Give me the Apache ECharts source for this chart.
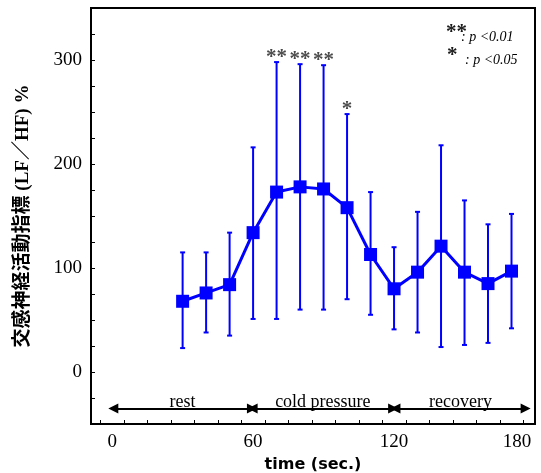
<!DOCTYPE html>
<html>
<head>
<meta charset="utf-8">
<script src="https://cdn.jsdelivr.net/npm/echarts@6/dist/echarts.min.js"></script>
<style>
  html, body { margin: 0; padding: 0; background: #ffffff; }
  #chart { width: 541px; height: 473px; }
</style>
</head>
<body>
<div id="chart"></div>
<script>
// Sampling times (seconds) and LF/HF ratio, % of baseline: mean with the SD bar ends
const times = [30, 40, 50, 60, 70, 80, 90, 100, 110, 120, 130, 140, 150, 160, 170];
const means = [68, 76, 84, 134, 173, 178, 176, 158, 113, 80, 96, 121, 96, 85, 97];
const upperEnds = [115, 115, 134, 216, 298, 296, 295, 248, 173, 120, 154, 218, 165, 142, 152];
const lowerEnds = [23, 38, 35, 51, 51, 60, 60, 70, 55, 41, 38, 24, 26, 28, 42];
// Significance marks over each time point
const significance = ['', '', '', '', '**', '**', '**', '*', '', '', '', '', '', '', ''];

// Axis labels and ticks
const xLabelValues = [0, 60, 120, 180];
const xTickValues = [-5, 5, 15, 25, 35, 45, 55, 65, 75, 85, 95, 105, 115, 125, 135, 145, 155, 165, 175];
const yLabelValues = [0, 100, 200, 300];

// Experimental phases shown as arrows under the curve
const phaseNames = ['rest', 'cold pressure', 'recovery'];
const phaseStarts = [0.5, 59.8, 120.6];
const phaseEnds = [59.5, 119.6, 176];
const phaseLevel = -35;

const BLUE = '#0000ff';
const SERIF = '"Liberation Serif", "Times New Roman", serif';

const chart = echarts.init(document.getElementById('chart'), null, { renderer: 'canvas' });

const errorData = times.map((t, i) => [t, lowerEnds[i], upperEnds[i]]);
const meanData = times.map((t, i) => [t, means[i]]);
const starData = times
  .map((t, i) => ({ value: [t, upperEnds[i]], mark: significance[i] }))
  .filter(d => d.mark);

const phaseLines = phaseNames.map((name, i) => [
  { coord: [phaseStarts[i], phaseLevel], name: name },
  { coord: [phaseEnds[i], phaseLevel] }
]);

chart.setOption({
  animation: false,
  backgroundColor: '#ffffff',
  grid: {
    left: 91, right: 6, top: 8, bottom: 49,
    outerBoundsMode: 'none',
    containLabel: false,
    show: true, borderColor: '#000000', borderWidth: 2, backgroundColor: 'transparent'
  },
  xAxis: {
    type: 'value',
    min: -9, max: 180,
    name: 'time (sec.)',
    nameLocation: 'middle',
    nameGap: 32,
    nameTextStyle: {
      fontFamily: '"DejaVu Sans", sans-serif', fontWeight: 'bold', fontSize: 16, color: '#000000'
    },
    axisLine: { show: true, onZero: false, lineStyle: { color: '#000000', width: 2 } },
    axisTick: {
      show: true, inside: true, length: 4, customValues: xTickValues,
      lineStyle: { color: '#000000', width: 1 }
    },
    axisLabel: {
      customValues: xLabelValues,
      showMinLabel: true, showMaxLabel: true,
      margin: 9,
      fontFamily: SERIF, fontSize: 19, color: '#000000',
      formatter: v => (v === 180 ? '{r|180}' : String(v)),
      rich: { r: { fontFamily: SERIF, fontSize: 19, color: '#000000', padding: [0, 36, 0, 0] } }
    },
    splitLine: { show: false }
  },
  yAxis: {
    type: 'value',
    min: -50, max: 350, interval: 25,
    name: '交感神経活動指標 (LF／HF) %',
    nameLocation: 'middle',
    nameGap: 58,
    nameTextStyle: {
      fontFamily: '"Liberation Serif", "Noto Sans CJK JP", serif', fontWeight: 'bold', fontSize: 19, color: '#000000'
    },
    axisLine: { show: true, onZero: false, lineStyle: { color: '#000000', width: 2 } },
    axisTick: { show: true, inside: true, length: 4, lineStyle: { color: '#000000', width: 1 } },
    axisLabel: {
      margin: 9,
      fontFamily: SERIF, fontSize: 19, color: '#000000',
      formatter: v => (yLabelValues.includes(v) ? String(v) : '')
    },
    splitLine: { show: false }
  },
  series: [
    {
      type: 'custom',
      name: 'sd',
      data: errorData,
      encode: { x: 0, y: [1, 2] },
      z: 2,
      renderItem: function (params, api) {
        const x = api.value(0);
        const lo = api.coord([x, api.value(1)]);
        const hi = api.coord([x, api.value(2)]);
        const hw = 2.5;
        const st = { stroke: BLUE, lineWidth: 2 };
        return {
          type: 'group',
          children: [
            { type: 'line', shape: { x1: hi[0], y1: hi[1], x2: lo[0], y2: lo[1] }, style: st },
            { type: 'line', shape: { x1: hi[0] - hw, y1: hi[1], x2: hi[0] + hw, y2: hi[1] }, style: st },
            { type: 'line', shape: { x1: lo[0] - hw, y1: lo[1], x2: lo[0] + hw, y2: lo[1] }, style: st }
          ]
        };
      }
    },
    {
      type: 'line',
      name: 'LF/HF',
      data: meanData,
      z: 3,
      symbol: 'rect',
      symbolSize: 13,
      lineStyle: { color: BLUE, width: 3 },
      itemStyle: { color: BLUE },
      markLine: {
        silent: true,
        symbol: ['triangle', 'triangle'],
        symbolSize: 10,
        lineStyle: { color: '#000000', width: 2, type: 'solid' },
        itemStyle: { color: '#000000' },
        label: {
          show: true,
          position: 'insideMiddleTop',
          distance: -3,
          formatter: '{b}',
          fontFamily: SERIF, fontSize: 18, color: '#000000'
        },
        emphasis: { disabled: true },
        data: phaseLines
      }
    },
    {
      type: 'scatter',
      name: 'significance',
      data: starData,
      symbolSize: 1,
      itemStyle: { color: 'rgba(0,0,0,0)' },
      z: 4,
      label: {
        show: true,
        position: 'top',
        distance: -6,
        formatter: p => p.data.mark,
        fontFamily: SERIF, fontWeight: 'bold', fontSize: 21, color: '#1a1a1a'
      }
    }
  ],
  graphic: [
    { type: 'text', left: 446, top: 22, style: { text: '**', font: 'bold 21px ' + SERIF, fill: '#1a1a1a' } },
    { type: 'text', left: 461, top: 30, style: { text: ': p <0.01', font: 'italic 14px ' + SERIF, fill: '#000000' } },
    { type: 'text', left: 447, top: 45, style: { text: '*', font: 'bold 21px ' + SERIF, fill: '#1a1a1a' } },
    { type: 'text', left: 465, top: 53, style: { text: ': p <0.05', font: 'italic 14px ' + SERIF, fill: '#000000' } }
  ]
});
</script>
</body>
</html>
